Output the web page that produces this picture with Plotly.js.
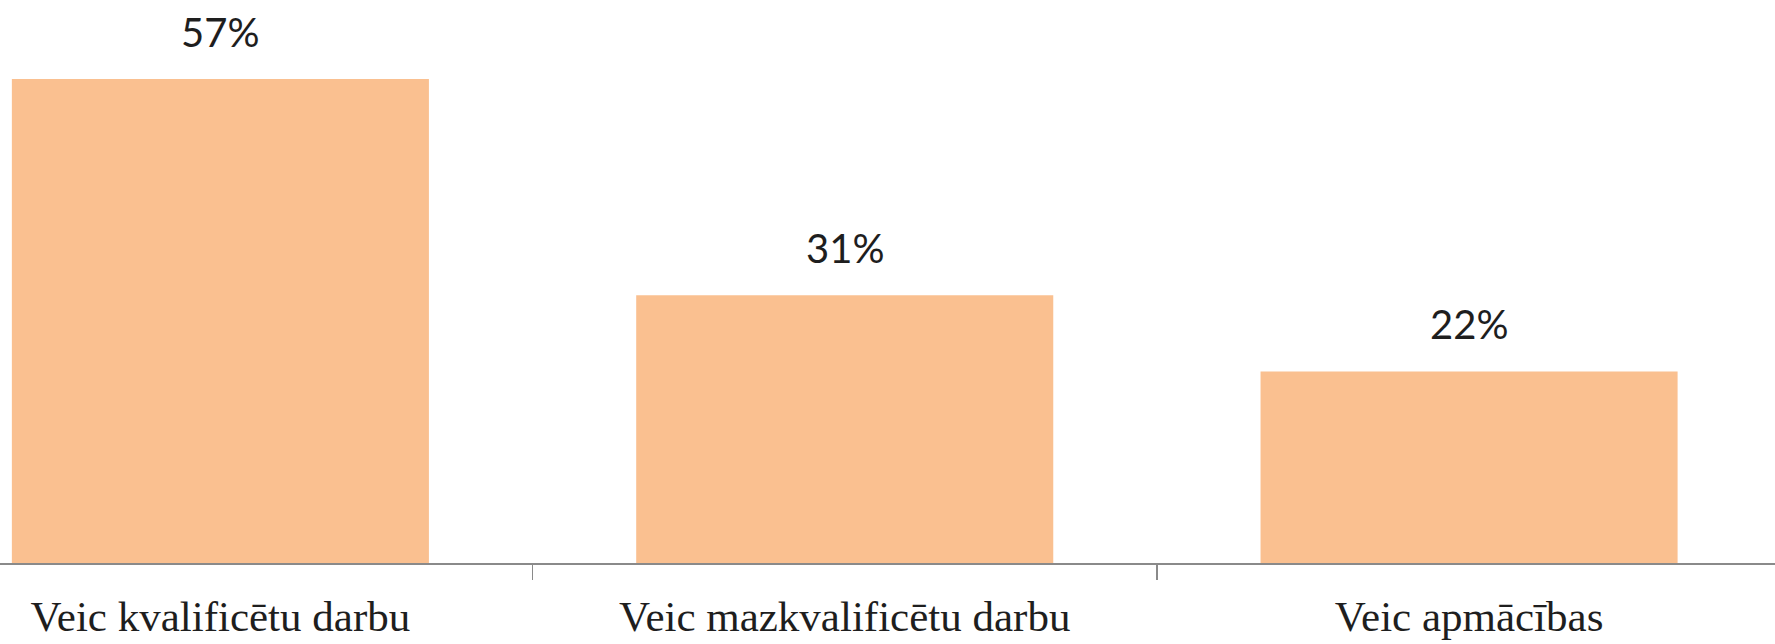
<!DOCTYPE html>
<html>
<head>
<meta charset="utf-8">
<script src="https://cdn.plot.ly/plotly-3.0.1.min.js"></script>
<style>
html,body{margin:0;padding:0;background:#fff;}
#chart{width:1775px;height:644px;}
</style>
</head>
<body>
<div id="chart"></div>
<script>
const categories = ["Veic kvalificētu darbu", "Veic mazkvalificētu darbu", "Veic apmācības"];
const values = [56.6, 31.3, 22.4];
const valueLabels = ["57%", "31%", "22%"];

const trace = {
  type: "bar",
  x: categories,
  y: values,
  marker: {color: "#FAC090", line: {width: 0}},
  hoverinfo: "none"
};

const annotations = categories.map((c, i) => ({
  x: c, y: values[i], xref: "x", yref: "y",
  text: valueLabels[i], showarrow: false,
  yanchor: "middle", yshift: 47,
  font: {family: "Lato, 'Liberation Sans', sans-serif", size: 40, color: "#1e1e1e"}
}));

const layout = {
  width: 1775, height: 644,
  margin: {l: 0, r: 0, t: 0, b: 81, pad: 0},
  paper_bgcolor: "#ffffff",
  plot_bgcolor: "#ffffff",
  showlegend: false,
  bargap: 0.332,
  xaxis: {
    type: "category",
    range: [-0.353, 2.49],
    showline: true, linecolor: "#8a8a8a", linewidth: 2,
    ticks: "outside", tickson: "boundaries", ticklen: 15, tickwidth: 1.5, tickcolor: "#8a8a8a",
    ticklabelstandoff: 14,
    showgrid: false, zeroline: false,
    tickfont: {family: "'Liberation Serif', 'DejaVu Serif', serif", size: 43, color: "#1e1e1e"},
    fixedrange: true
  },
  yaxis: {
    range: [0, 65.84],
    visible: false, showgrid: false, zeroline: false, fixedrange: true
  },
  annotations: annotations
};

Plotly.newPlot("chart", [trace], layout, {displayModeBar: false, staticPlot: true});
</script>
</body>
</html>
